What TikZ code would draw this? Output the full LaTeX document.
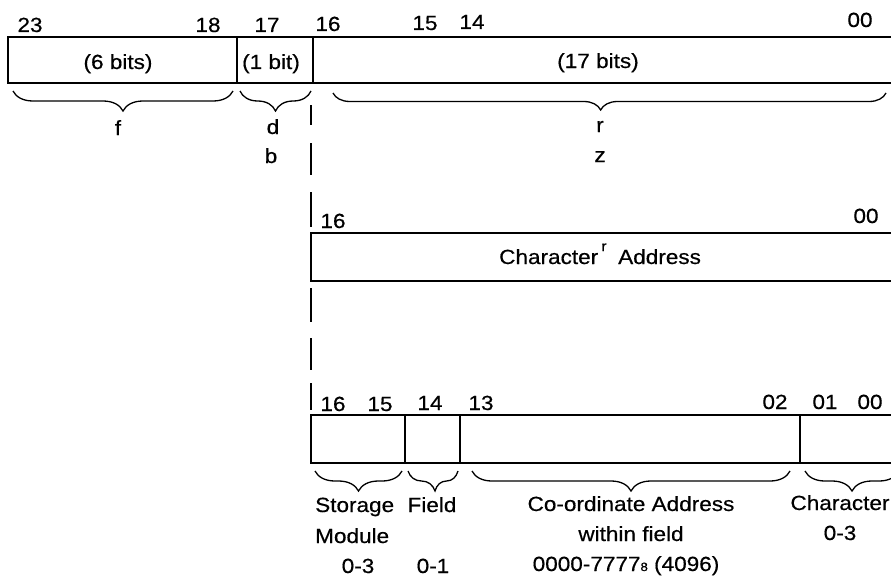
\documentclass[tikz,border=0pt]{standalone}
\usepackage{fontspec}
\setmainfont[FakeStretch=1.1, FakeBold=0.5]{Liberation Sans}
\usetikzlibrary{decorations.pathreplacing}
\begin{document}
\begin{tikzpicture}[x=1pt,y=-1pt,
  lbl/.style={font=\fontsize{20.5}{24}\selectfont, inner sep=0pt, anchor=base},
  frame/.style={line width=2.8pt, line join=miter},
  sepline/.style={line width=1.2pt},
  brc/.style={line width=1.3pt, decorate, decoration={brace, mirror, amplitude=20pt}},
  dashseg/.style={line width=1.3pt}]
\useasboundingbox (0,0) rectangle (891,578);

% ---------- top word ----------
\draw[frame] (895,37) -- (8,37) -- (8,83) -- (895,83);
\draw[sepline] (237,37) -- (237,83);
\draw[sepline] (313,37) -- (313,83);

\node[lbl] (t23) at (30,32) {23};
\node[lbl] (t18) at (208,32) {18};
\node[lbl] (t17) at (267,32) {17};
\node[lbl] (t16) at (328,31) {16};
\node[lbl] (t15) at (425,30) {15};
\node[lbl] (t14) at (472,29) {14};
\node[lbl] (t00) at (860,27) {00};

\node[lbl] (six) at (118,69) {(6 bits)};
\node[lbl] (one) at (271,69) {(1 bit)};
\node[lbl] (seventeen) at (598,68) {(17 bits)};

\coordinate (fa) at (13,91);  \coordinate (fb) at (233,91);
\coordinate (da) at (240,91); \coordinate (db) at (311,91);
\coordinate (ra) at (333,93); \coordinate (rb) at (886,93);
\draw[brc] (fa) -- (fb);
\draw[brc] (da) -- (db);
\draw[brc, decoration={aspect=0.484, amplitude=17pt}] (ra) -- (rb);

\node[lbl] (f) at (118,135) {f};
\node[lbl] (d) at (273,134) {d};
\node[lbl] (b) at (271,163) {b};
\node[lbl] (r) at (600,132) {r};
\node[lbl] (z) at (600,162) {z};

% ---------- dashed guide ----------
\draw[dashseg] (311,105) -- (311,125);
\draw[dashseg] (311,143) -- (311,175);
\draw[dashseg] (311,192) -- (311,227);
\draw[dashseg] (311,288) -- (311,322);
\draw[dashseg] (311,338) -- (311,370);
\draw[dashseg] (311,383) -- (311,410);

% ---------- character address ----------
\draw[frame] (895,233) -- (311,233) -- (311,281) -- (895,281);
\node[lbl] (c16) at (333,228) {16};
\node[lbl] (c00) at (866,223) {00};
\node[lbl, anchor=base west] (charw) at (499,264) {Character};
\node[lbl, font=\fontsize{14}{16}\selectfont] (rsup) at (604,251) {r};
\node[lbl, anchor=base west] (addrw) at (618,264) {Address};

% ---------- detailed address ----------
\draw[frame] (895,415) -- (311,415) -- (311,463) -- (895,463);
\draw[sepline] (405,415) -- (405,463);
\draw[sepline] (460,415) -- (460,463);
\draw[sepline] (800,415) -- (800,463);

\node[lbl] (a16) at (333,411) {16};
\node[lbl] (a15) at (380,411) {15};
\node[lbl] (a14) at (430,410) {14};
\node[lbl] (a13) at (481,410) {13};
\node[lbl] (a02) at (775,409) {02};
\node[lbl] (a01) at (825,409) {01};
\node[lbl] (a00) at (870,409) {00};

\coordinate (sma) at (315,471); \coordinate (smb) at (402,471);
\coordinate (fla) at (408,471); \coordinate (flb) at (458,471);
\coordinate (coa) at (472,471); \coordinate (cob) at (790,471);
\coordinate (cha) at (805,471); \coordinate (chb) at (899,471);
\draw[brc] (sma) -- (smb);
\draw[brc, decoration={aspect=0.54}] (fla) -- (flb);
\draw[brc] (coa) -- (cob);
\draw[brc] (cha) -- (chb);

\node[lbl, anchor=base west] (stor) at (315,512) {Storage};
\node[lbl, anchor=base west] (modl) at (315,543) {Module};
\node[lbl] (sm03) at (358,573) {0-3};
\node[lbl] (fld) at (432,512) {Field};
\node[lbl] (fl01) at (433,573) {0-1};
\node[lbl] (coord) at (631,511) {Co-ordinate Address};
\node[lbl] (within) at (631,541) {within field};
\node[lbl] (range) at (626,571) {0000-7777{\fontsize{12}{12}\selectfont 8} (4096)};
\node[lbl] (chr) at (840,510) {Character};
\node[lbl] (ch03) at (840,540) {0-3};
\end{tikzpicture}
\end{document}
